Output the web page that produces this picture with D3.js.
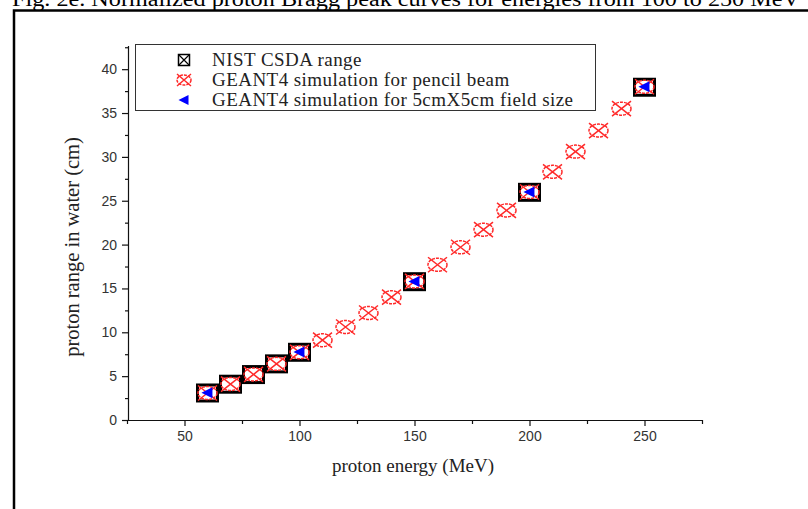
<!DOCTYPE html>
<html>
<head>
<meta charset="utf-8">
<script src="https://cdn.jsdelivr.net/npm/d3@7"></script>
<style>
  body { margin: 0; background: #fff; }
  svg { display: block; }
</style>
</head>
<body>
<svg id="chart"></svg>
<script>
// NIST CSDA range in water
const nistEnergy = [60, 70, 80, 90, 100, 150, 200, 250];
const nistRange = [3.08, 4.08, 5.18, 6.40, 7.72, 15.77, 25.96, 37.94];

// GEANT4 pencil beam
const pencilEnergy = [60, 70, 80, 90, 100, 110, 120, 130, 140, 150, 160, 170, 180, 190, 200, 210, 220, 230, 240, 250];
const pencilRange = [3.08, 4.1, 5.2, 6.4, 7.72, 9.1, 10.6, 12.2, 14.0, 15.8, 17.7, 19.7, 21.7, 23.9, 26.0, 28.3, 30.6, 33.0, 35.5, 38.0];

// GEANT4 5cmX5cm field
const fieldEnergy = [60, 100, 150, 200, 250];
const fieldRange = [3.1, 7.75, 15.8, 26.0, 38.0];

const xTicks = [50, 100, 150, 200, 250];
const xMinor = [25, 75, 125, 175, 225, 275];
const yTicks = [0, 5, 10, 15, 20, 25, 30, 35, 40];
const yMinor = [2.5, 7.5, 12.5, 17.5, 22.5, 27.5, 32.5, 37.5, 42.5];

const legendLabels = ["NIST CSDA range", "GEANT4 simulation for pencil beam", "GEANT4 simulation for 5cmX5cm field size"];

const W = 808, H = 509;
const svg = d3.select("#chart").attr("width", W).attr("height", H);

const tickFont = "Liberation Sans, Arial, sans-serif";
const serif = "Liberation Serif, Times New Roman, serif";

// page title (cut off at top, as in the scan) and frame
svg.append("text")
    .attr("x", 12).attr("y", 6)
    .attr("font-family", serif)
    .attr("font-size", 20)
    .attr("textLength", 788).attr("lengthAdjust", "spacingAndGlyphs")
    .text("Fig. 2e. Normalized proton Bragg peak curves for energies from 100 to 250 MeV");
svg.append("path")
    .attr("d", "M14," + H + " L14,10.5 L" + W + ",10.5")
    .attr("fill", "none").attr("stroke", "#000").attr("stroke-width", 2.5);

const x = d3.scaleLinear().domain([25, 275]).range([127, 702]);
const y = d3.scaleLinear().domain([0, 42.7]).range([420, 45.5]);

// axes
let gx = svg.append("g").attr("transform", "translate(0,420)")
    .call(d3.axisBottom(x).tickValues(xTicks).tickSize(6).tickSizeOuter(0).tickPadding(5));
let gxm = svg.append("g").attr("transform", "translate(0,420)")
    .call(d3.axisBottom(x).tickValues(xMinor).tickSize(4).tickFormat(""));
gxm.select(".domain").remove();

let gy = svg.append("g").attr("transform", "translate(128,0)")
    .call(d3.axisLeft(y).tickValues(yTicks).tickSize(6).tickSizeOuter(0).tickPadding(5));
let gym = svg.append("g").attr("transform", "translate(128,0)")
    .call(d3.axisLeft(y).tickValues(yMinor).tickSize(3).tickFormat(""));
gym.select(".domain").remove();

svg.selectAll(".domain, .tick line").attr("stroke", "#111").attr("stroke-width", 1.2);
svg.selectAll(".tick text")
    .attr("font-family", tickFont).attr("font-size", 14).attr("fill", "#333");

// axis titles
svg.append("text")
    .attr("x", 413).attr("y", 472)
    .attr("text-anchor", "middle")
    .attr("font-family", serif).attr("font-size", 19).attr("fill", "#222")
    .text("proton energy (MeV)");
svg.append("text")
    .attr("transform", "translate(79,247) rotate(-90)")
    .attr("text-anchor", "middle")
    .attr("font-family", serif).attr("font-size", 20.5).attr("fill", "#222")
    .text("proton range in water (cm)");

// marker drawers
function drawSquare(g, cx, cy, w, h, sw, cross) {
    g.append("rect")
        .attr("x", cx - w / 2).attr("y", cy - h / 2)
        .attr("width", w).attr("height", h)
        .attr("fill", "#fff").attr("stroke", "#000").attr("stroke-width", sw);
    if (cross) {
        g.append("path")
            .attr("d", `M${cx - w / 2},${cy - h / 2}L${cx + w / 2},${cy + h / 2}M${cx - w / 2},${cy + h / 2}L${cx + w / 2},${cy - h / 2}`)
            .attr("stroke", "#000").attr("stroke-width", 1.2);
    }
}
function drawCircleX(g, cx, cy, rx, ry) {
    g.append("ellipse")
        .attr("cx", cx).attr("cy", cy).attr("rx", rx).attr("ry", ry)
        .attr("fill", "none").attr("stroke", "#ff2a2a").attr("stroke-width", 1.5)
        .attr("stroke-dasharray", "3,1");
    g.append("path")
        .attr("d", `M${cx - rx},${cy - ry - 1}L${cx + rx},${cy + ry + 1}M${cx - rx},${cy + ry + 1}L${cx + rx},${cy - ry - 1}`)
        .attr("stroke", "#ff2a2a").attr("stroke-width", 1.5);
}
function drawTriangle(g, cx, cy, s) {
    g.append("path")
        .attr("d", `M${cx - s * 0.55},${cy}L${cx + s * 0.45},${cy - s / 2}L${cx + s * 0.45},${cy + s / 2}Z`)
        .attr("fill", "#0000ff");
}

// data marks
const gN = svg.append("g");
nistEnergy.forEach((e, i) => drawSquare(gN, x(e), y(nistRange[i]), 20, 16, 3, false));
const gP = svg.append("g");
pencilEnergy.forEach((e, i) => drawCircleX(gP, x(e), y(pencilRange[i]), 9.5, 6.5));
const gF = svg.append("g");
fieldEnergy.forEach((e, i) => drawTriangle(gF, x(e), y(fieldRange[i]), 11));

// legend
const lg = svg.append("g");
lg.append("rect")
    .attr("x", 135.5).attr("y", 44.5).attr("width", 460).attr("height", 66)
    .attr("fill", "#fff").attr("stroke", "#333").attr("stroke-width", 1);
const rowY = [60, 80, 100];
drawSquare(lg, 184, rowY[0], 11, 11, 1.5, true);
drawCircleX(lg, 184, rowY[1], 7, 5);
drawTriangle(lg, 184, rowY[2], 10);
lg.selectAll("text").data(legendLabels).enter().append("text")
    .attr("x", 212).attr("y", (d, i) => rowY[i] + 6)
    .attr("font-family", serif).attr("font-size", 19).attr("fill", "#222")
    .attr("letter-spacing", 0.45)
    .text(d => d);
</script>
</body>
</html>
